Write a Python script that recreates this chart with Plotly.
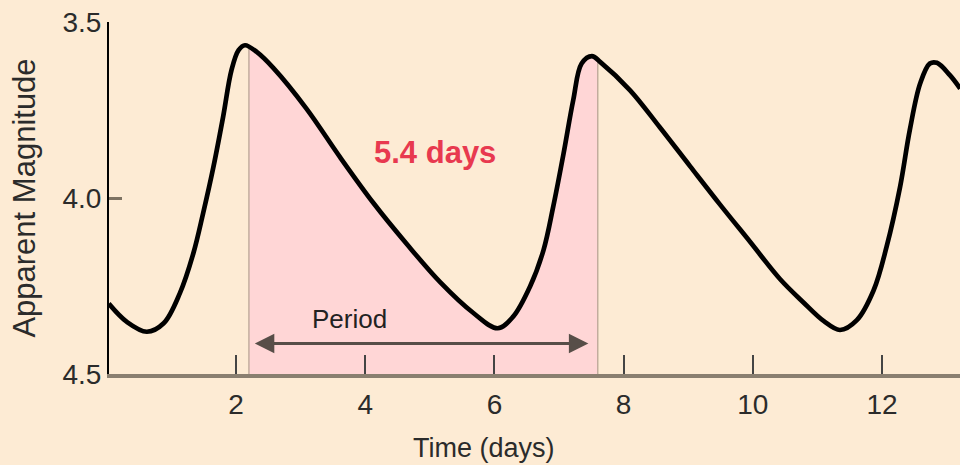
import plotly.graph_objects as go

# --- data ---
days = [0.03, 0.31, 0.62, 0.88, 1.13, 1.34, 1.49, 1.65, 1.80, 1.93, 2.04, 2.14, 2.32, 2.58,
        3.09, 3.61, 4.13, 4.64, 5.16, 5.67, 6.05, 6.29, 6.55, 6.76, 6.91, 7.07, 7.22, 7.35,
        7.51, 7.64, 8.10, 8.56, 9.03, 9.49, 9.96, 10.42, 10.78, 11.10, 11.35, 11.61, 11.87,
        12.07, 12.28, 12.43, 12.59, 12.74, 12.85, 13.05, 13.21]
magnitude = [4.300, 4.352, 4.380, 4.356, 4.271, 4.157, 4.044, 3.912, 3.770, 3.637, 3.580,
             3.566, 3.585, 3.631, 3.746, 3.884, 4.015, 4.130, 4.239, 4.326, 4.370, 4.337,
             4.252, 4.148, 4.025, 3.874, 3.722, 3.618, 3.597, 3.614, 3.694, 3.799, 3.910,
             4.018, 4.125, 4.230, 4.296, 4.350, 4.375, 4.347, 4.262, 4.139, 3.968, 3.807,
             3.675, 3.618, 3.616, 3.651, 3.689]

period_start, period_end = 2.2, 7.6
edge_mags = [3.57, 3.61]
x_ticks = [2, 4, 6, 8, 10, 12]
y_ticks = [3.5, 4.0, 4.5]
y_ticktext = ["3.5", "4.0", "4.5"]

BG = "#fdebd4"
PINK = "#ffd6d6"
FONT = "Arial, Liberation Sans, sans-serif"

# points of the curve inside the shaded period
fill_x = [period_start] + [d for d in days if period_start < d < period_end] + [period_end]
fill_y = [edge_mags[0]] + [m for d, m in zip(days, magnitude) if period_start < d < period_end] + [edge_mags[1]]

fig = go.Figure()

# baseline for the shaded area
fig.add_trace(go.Scatter(x=[period_start, period_end], y=[4.5, 4.5], mode="lines",
                         line=dict(width=0), hoverinfo="skip", showlegend=False))
fig.add_trace(go.Scatter(x=fill_x, y=fill_y, mode="lines", line=dict(width=0, shape="spline"),
                         fill="tonexty", fillcolor=PINK, hoverinfo="skip", showlegend=False))

# thin edges of the shaded period
for xe, ye in zip([period_start, period_end], edge_mags):
    fig.add_trace(go.Scatter(x=[xe, xe], y=[ye, 4.5], mode="lines",
                             line=dict(color="#b9a596", width=1.3),
                             hoverinfo="skip", showlegend=False))

# light curve
fig.add_trace(go.Scatter(x=days, y=magnitude, mode="lines",
                         line=dict(color="black", width=4.7, shape="spline"),
                         showlegend=False))

# period arrow
fig.add_annotation(x=7.454, y=4.413, ax=2.268, ay=4.413, xref="x", yref="y",
                   axref="x", ayref="y", text="", showarrow=True,
                   arrowhead=2, startarrowhead=2, arrowside="end+start",
                   arrowsize=1.3, startarrowsize=1.3, arrowwidth=3, arrowcolor="#574e48")
fig.add_annotation(x=3.75, y=4.344, text="Period", showarrow=False,
                   font=dict(family=FONT, size=26, color="#222222"))
fig.add_annotation(x=5.08, y=3.87, text="<b>5.4 days</b>", showarrow=False,
                   font=dict(family=FONT, size=31, color="#e8394f"))
# x title sits left of the plot centre in the original
fig.add_annotation(x=0.4407, y=-0.21, xref="paper", yref="paper", text="Time (days)",
                   showarrow=False, yanchor="middle",
                   font=dict(family=FONT, size=27, color="#2b2b2b"))

fig.update_layout(
    width=960, height=465,
    paper_bgcolor=BG, plot_bgcolor=BG,
    margin=dict(l=109, r=0, t=22, b=91),
    font=dict(family=FONT, color="#2b2b2b"),
    xaxis=dict(range=[0.034, 13.207], tickvals=x_ticks, ticks="inside", ticklen=19,
               tickwidth=2, tickcolor="#444444", showline=True, linecolor="#8a7f70",
               linewidth=4, showgrid=False, zeroline=False, tickfont=dict(size=28),
               ticklabelstandoff=2, automargin=False),
    yaxis=dict(range=[4.5, 3.5], tickvals=y_ticks, ticktext=y_ticktext, ticks="inside",
               ticklen=13, tickwidth=3, tickcolor="#7d7262", showline=True,
               linecolor="black", linewidth=2, showgrid=False, zeroline=False,
               tickfont=dict(size=28), ticklabelstandoff=0, automargin=False,
               title=dict(text="Apparent Magnitude", font=dict(size=31), standoff=18)),
)

# page has an 8px body margin by default; drop it so the figure sits at 0,0
fig.write_html("out.html", config={"displayModeBar": False},
               post_script="document.body.style.margin='0';")
